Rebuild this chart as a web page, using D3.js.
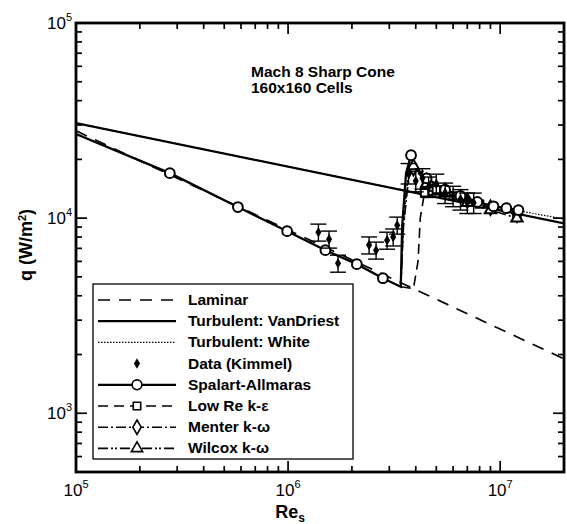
<!DOCTYPE html>
<html><head><meta charset="utf-8">
<script src="https://cdn.jsdelivr.net/npm/d3@7"></script>
<style>body{margin:0;background:#fff}svg{display:block}text{font-family:"Liberation Sans",Arial,sans-serif}</style>
</head><body><svg id="c" width="567" height="524"></svg>
<script>
// ---- data (Re_s, q in W/m^2) ----
const laminar = [[1e5, 28000], [1e6, 8700], [3.5e6, 4600], [2e7, 1900]];
const vanDriest = [[1e5, 30700], [2e7, 9400]];
const white = [[1e5, 30700], [3e6, 14380], [2e7, 9900]];
const kimmel = [[1.39e6, 8470, 0.10], [1.56e6, 7800, 0.10], [1.72e6, 5870, 0.10], [2.41e6, 7280, 0.10],
  [2.6e6, 6850, 0.10], [2.93e6, 7700, 0.10], [3.13e6, 8000, 0.10], [3.27e6, 9200, 0.10],
  [3.7e6, 17000, 0.12], [4.0e6, 15500, 0.12], [4.3e6, 16000, 0.12], [4.6e6, 14500, 0.12],
  [5.0e6, 15000, 0.12], [5.5e6, 13500, 0.12], [6.0e6, 13000, 0.12], [6.5e6, 12500, 0.12],
  [7.0e6, 12000, 0.12], [7.5e6, 12000, 0.12]];
const saCurve = [[1e5, 27000], [2.77e5, 17000], [5.8e5, 11400], [9.9e5, 8570], [1.5e6, 6850], [2.11e6, 5810],
  [2.8e6, 4920], [3.4e6, 4450], [3.45e6, 9000], [3.6e6, 17000], [3.8e6, 21000], [4.0e6, 18000],
  [4.5e6, 16000], [5.5e6, 14000], [6.5e6, 13000], [7.8e6, 12100], [9.3e6, 11500], [1.07e7, 11250], [1.22e7, 11000]];
const saMarks = [[2.77e5, 17000], [5.8e5, 11400], [9.9e5, 8570], [1.5e6, 6850], [2.11e6, 5810], [2.8e6, 4920],
  [3.8e6, 21000], [4.5e6, 16000], [5.5e6, 14000], [6.5e6, 13000], [7.8e6, 12100], [9.3e6, 11500], [1.07e7, 11250], [1.22e7, 11000]];
const keCurve = [[3.4e6, 4450], [3.9e6, 4350], [4.1e6, 6000], [4.2e6, 10000], [4.4e6, 13500], [5e6, 14000], [6e6, 13000], [8e6, 11800], [1.2e7, 10600]];
const keMarks = [[4.4e6, 13500], [5e6, 14000], [6e6, 13000], [8e6, 11800], [1.2e7, 10600]];
const menterCurve = [[3.4e6, 4450], [3.5e6, 9000], [3.7e6, 16000], [3.9e6, 18000], [4.5e6, 15500], [5.5e6, 13800], [7e6, 12300], [9e6, 11300], [1.2e7, 10400]];
const menterMarks = [[3.9e6, 18000], [4.5e6, 15500], [5.5e6, 13800], [7e6, 12300], [9e6, 11300], [1.2e7, 10400]];
const wilcoxCurve = [[3.4e6, 4450], [3.5e6, 10000], [3.7e6, 17000], [3.9e6, 18500], [4.5e6, 15000], [5.5e6, 13500], [7e6, 12000], [9e6, 11000], [1.2e7, 10000]];
const wilcoxMarks = [[3.9e6, 18500], [4.5e6, 15000], [5.5e6, 13500], [7e6, 12000], [9e6, 11000], [1.2e7, 10000]];
const xDomain = [1e5, 2e7];
const yDomain = [500, 1e5];
const xMajor = [5, 6, 7];
const yMajor = [3, 4, 5];
const title = ["Mach 8 Sharp Cone", "160x160 Cells"];
const legendItems = ["Laminar", "Turbulent: VanDriest", "Turbulent: White", "Data (Kimmel)", "Spalart-Allmaras", "Low Re k-\u03B5", "Menter k-\u03C9", "Wilcox k-\u03C9"];

// ---- drawing ----
const svg = d3.select("#c");
const L = 76, R = 564, T = 23, B = 472;
const x = d3.scaleLog().domain(xDomain).range([L, R]);
const y = d3.scaleLog().domain(yDomain).range([B, T]);
const line = d3.line().x(d => x(d[0])).y(d => y(d[1]));
const plot = svg.append("g");
plot.append("clipPath").attr("id", "clip").append("rect").attr("x", L).attr("y", T).attr("width", R - L).attr("height", B - T);
const g = plot.append("g").attr("clip-path", "url(#clip)");

function path(data, w, dash) {
  g.append("path").datum(data).attr("d", line).attr("fill", "none").attr("stroke", "#000")
    .attr("stroke-width", w).attr("stroke-dasharray", dash || null);
}
path(laminar, 1.7, "12,9");
path(vanDriest, 2.2);
path(white, 1.2, "1.5,1.5");
path(keCurve, 1.6, "10,6");
path(menterCurve, 1.6, "10,3,2,3");
path(wilcoxCurve, 1.6, "10,3,2,2,2,3");
path(saCurve, 2.3);

const sym = {
  circle: d3.symbol().type(d3.symbolCircle).size(75),
  square: d3.symbol().type(d3.symbolSquare).size(55),
  diamond: d3.symbol().type(d3.symbolDiamond).size(60),
  triangle: d3.symbol().type(d3.symbolTriangle).size(55)
};
function marks(data, s) {
  g.selectAll(null).data(data).enter().append("path").attr("d", sym[s])
    .attr("transform", d => `translate(${x(d[0])},${y(d[1])})`)
    .attr("fill", "#fff").attr("stroke", "#000").attr("stroke-width", 2);
}
marks(keMarks, "square");
marks(menterMarks, "diamond");
marks(wilcoxMarks, "triangle");
marks(saMarks, "circle");

// data with error bars
const eb = g.selectAll(null).data(kimmel).enter().append("g");
eb.append("line").attr("x1", d => x(d[0])).attr("x2", d => x(d[0]))
  .attr("y1", d => y(d[1] * (1 + d[2]))).attr("y2", d => y(d[1] * (1 - d[2]))).attr("stroke", "#000").attr("stroke-width", 1.4);
[1, -1].forEach(s => eb.append("line").attr("x1", d => x(d[0]) - 8).attr("x2", d => x(d[0]) + 8)
  .attr("y1", d => y(d[1] * (1 + s * d[2]))).attr("y2", d => y(d[1] * (1 + s * d[2]))).attr("stroke", "#000").attr("stroke-width", 1.4));
eb.append("path").attr("d", d3.symbol().type(d3.symbolDiamond).size(32))
  .attr("transform", d => `translate(${x(d[0])},${y(d[1])})`).attr("fill", "#000");

// frame and ticks
const ax = svg.append("g");
ax.append("rect").attr("x", L).attr("y", T).attr("width", R - L).attr("height", B - T)
  .attr("fill", "none").attr("stroke", "#000").attr("stroke-width", 2.8);
const xt = x.ticks(), yt = y.ticks();
const isMajor = v => Math.abs(Math.log10(v) - Math.round(Math.log10(v))) < 1e-9;
xt.forEach(v => {
  const len = isMajor(v) ? 11 : 6, X = x(v);
  ax.append("line").attr("x1", X).attr("x2", X).attr("y1", B).attr("y2", B - len).attr("stroke", "#000").attr("stroke-width", 1.7);
  ax.append("line").attr("x1", X).attr("x2", X).attr("y1", T).attr("y2", T + len).attr("stroke", "#000").attr("stroke-width", 1.7);
});
yt.forEach(v => {
  const len = isMajor(v) ? 11 : 6, Y = y(v);
  ax.append("line").attr("x1", L).attr("x2", L + len).attr("y1", Y).attr("y2", Y).attr("stroke", "#000").attr("stroke-width", 1.7);
  ax.append("line").attr("x1", R).attr("x2", R - len).attr("y1", Y).attr("y2", Y).attr("stroke", "#000").attr("stroke-width", 1.7);
});
function powLabel(px, py, e, anchor) {
  const t = ax.append("text").attr("x", px).attr("y", py).attr("text-anchor", anchor).attr("font-size", 17);
  t.append("tspan").text("10");
  t.append("tspan").attr("dy", -8).attr("font-size", 11).text(e);
}
xMajor.forEach(e => powLabel(x(Math.pow(10, e)), B + 24, e, "middle"));
yMajor.forEach(e => powLabel(L - 4, y(Math.pow(10, e)) + 6, e, "end"));

// axis titles
const xl = svg.append("text").attr("x", 290).attr("y", 518).attr("text-anchor", "middle").attr("font-size", 18).attr("font-weight", "bold");
xl.append("tspan").text("Re");
xl.append("tspan").attr("dy", 4).attr("font-size", 12).text("s");
const yl = svg.append("text").attr("transform", "translate(32,245) rotate(-90)").attr("text-anchor", "middle")
  .attr("font-size", 18).attr("font-weight", "bold");
yl.append("tspan").text("q (W/m");
yl.append("tspan").attr("dy", -6).attr("font-size", 11).text("2");
yl.append("tspan").attr("dy", 6).text(")");

// title
title.forEach((t, i) => svg.append("text").attr("x", 251).attr("y", 77 + i * 16).attr("font-size", 15.5).attr("font-weight", "bold").text(t));

// legend
const lg = svg.append("g");
lg.append("rect").attr("x", 93).attr("y", 284).attr("width", 260).attr("height", 175).attr("fill", "#fff").attr("stroke", "#000").attr("stroke-width", 1.3);
const dashes = ["12,9", null, "1.5,1.5", "none", null, "10,6", "10,3,2,3", "10,3,2,2,2,3"];
const widths = [1.7, 2.2, 1.2, 0, 2.2, 1.6, 1.6, 1.6];
const lsym = [null, null, null, "data", "circle", "square", "diamond", "triangle"];
legendItems.forEach((name, i) => {
  const cy = 300 + i * 21.2;
  if (widths[i] > 0) lg.append("line").attr("x1", 98).attr("x2", 176).attr("y1", cy).attr("y2", cy)
    .attr("stroke", "#000").attr("stroke-width", widths[i]).attr("stroke-dasharray", dashes[i]);
  if (lsym[i] === "data") lg.append("path").attr("d", d3.symbol().type(d3.symbolDiamond).size(32)).attr("transform", `translate(137,${cy})`).attr("fill", "#000");
  else if (lsym[i]) lg.append("path").attr("d", sym[lsym[i]]).attr("transform", `translate(137,${cy})`).attr("fill", "#fff").attr("stroke", "#000").attr("stroke-width", 1.6);
  lg.append("text").attr("x", 188).attr("y", cy + 5).attr("font-size", 15.5).attr("font-weight", "bold").text(name);
});
</script></body></html>
